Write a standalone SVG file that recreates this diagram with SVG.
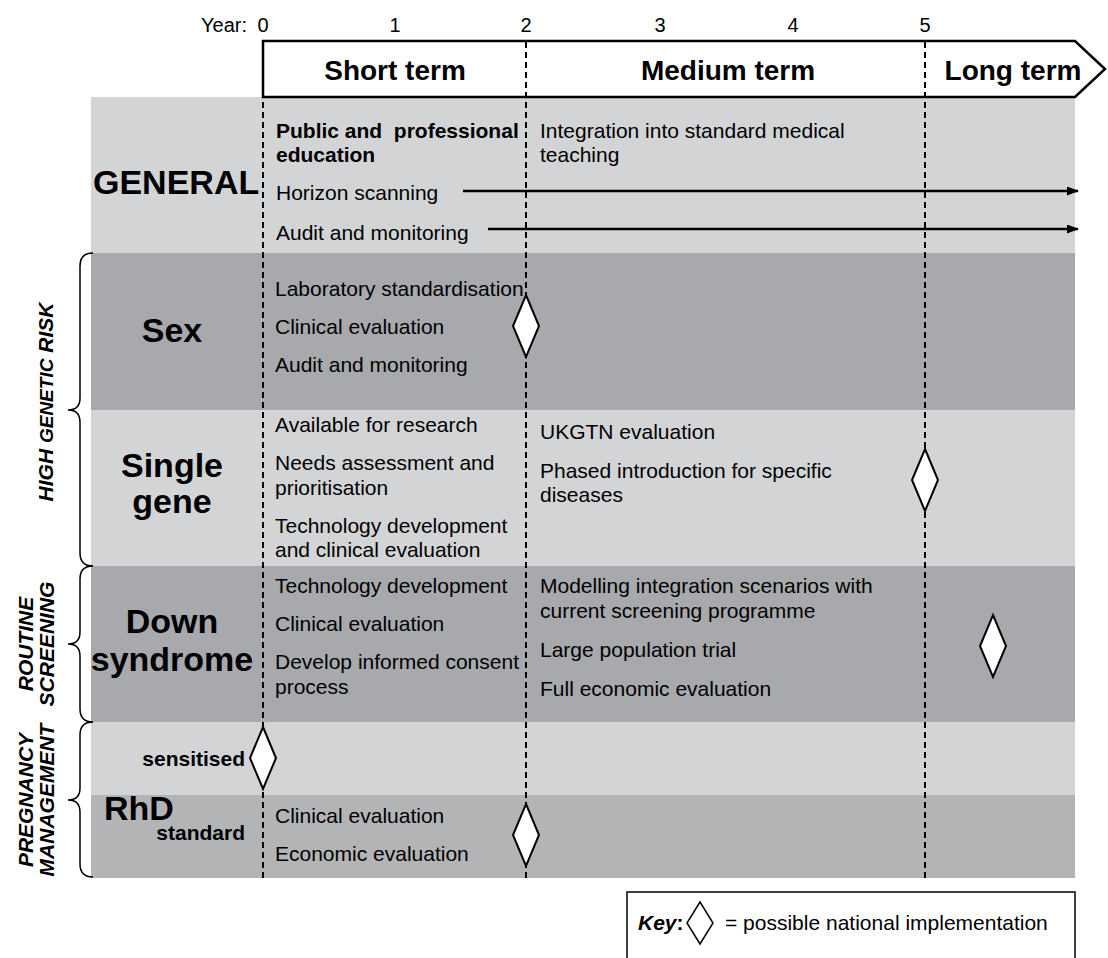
<svg xmlns="http://www.w3.org/2000/svg" width="1108" height="958" viewBox="0 0 1108 958">
<defs>
<style>
.t{font-family:"Liberation Sans",Arial,sans-serif;font-size:21px;fill:#000;white-space:pre}
.b{font-weight:bold}
.lbl{font-family:"Liberation Sans",Arial,sans-serif;font-weight:bold;font-size:34px;fill:#000}
.hd{font-family:"Liberation Sans",Arial,sans-serif;font-weight:bold;font-size:28px;fill:#000;text-anchor:middle}
.yr{font-family:"Liberation Sans",Arial,sans-serif;font-size:20px;fill:#000}
.grp{font-family:"Liberation Sans",Arial,sans-serif;font-weight:bold;font-style:italic;font-size:21px;fill:#000;text-anchor:middle}
.light{fill:#d3d4d6}
.dark{fill:#a7a9ac}
.mid{fill:#b3b4b6}
.dash{stroke:#000;stroke-width:2;stroke-dasharray:6,4;fill:none}
.dia{fill:#fff;stroke:#000;stroke-width:2}
.brace{fill:none;stroke:#000;stroke-width:1.5}
.arr{stroke:#000;stroke-width:2.5;fill:none}
</style>
<marker id="ah" markerWidth="12" markerHeight="9" refX="11" refY="4.5" orient="auto" markerUnits="userSpaceOnUse">
<path d="M0,0 L12,4.5 L0,9 Z" fill="#000"/>
</marker>
<polygon id="d" points="0,-31 13,0 0,31 -13,0"/>
</defs>

<g id="bands">
<rect class="light" x="91" y="97" width="984" height="156"/>
<rect class="dark" x="91" y="253" width="984" height="157"/>
<rect class="light" x="91" y="410" width="984" height="156"/>
<rect class="dark" x="91" y="566" width="984" height="156"/>
<rect class="light" x="91" y="722" width="984" height="73"/>
<rect class="mid" x="91" y="795" width="984" height="83"/>
</g>

<g id="timeline">
<text class="yr" x="247" y="32" text-anchor="end">Year:</text>
<text class="yr" x="263" y="32" text-anchor="middle">0</text>
<text class="yr" x="395" y="32" text-anchor="middle">1</text>
<text class="yr" x="526" y="32" text-anchor="middle">2</text>
<text class="yr" x="660" y="32" text-anchor="middle">3</text>
<text class="yr" x="793" y="32" text-anchor="middle">4</text>
<text class="yr" x="925" y="32" text-anchor="middle">5</text>
<polygon points="263,41 1075,41 1105,69 1075,97 263,97" fill="#fff" stroke="#000" stroke-width="2.5"/>
<text class="hd" x="395" y="80">Short term</text>
<text class="hd" x="728" y="80" font-size="27.5">Medium term</text>
<text class="hd" x="1013" y="80" font-size="30">Long term</text>
</g>

<g id="connectors">
<line class="dash" x1="263" y1="42" x2="263" y2="880"/>
<line class="dash" x1="526" y1="42" x2="526" y2="880"/>
<line class="dash" x1="925" y1="42" x2="925" y2="878"/>
<line class="arr" x1="463" y1="191" x2="1078" y2="191" marker-end="url(#ah)"/>
<line class="arr" x1="488" y1="229" x2="1078" y2="229" marker-end="url(#ah)"/>
</g>

<g id="general">
<text class="lbl" x="93" y="194" font-size="33.5">GENERAL</text>
<text class="t b" x="276" y="138">Public and  professional</text>
<text class="t b" x="276" y="162">education</text>
<text class="t" x="276" y="200">Horizon scanning</text>
<text class="t" x="276" y="240">Audit and monitoring</text>
<text class="t" x="540" y="138">Integration into standard medical</text>
<text class="t" x="540" y="162">teaching</text>
</g>

<g id="sex">
<text class="lbl" x="172" y="342" text-anchor="middle">Sex</text>
<text class="t" x="275" y="296">Laboratory standardisation</text>
<text class="t" x="275" y="334">Clinical evaluation</text>
<text class="t" x="275" y="372">Audit and monitoring</text>
<use href="#d" class="dia" x="526" y="326"/>
</g>

<g id="single-gene">
<text class="lbl" x="172" y="477" text-anchor="middle">Single</text>
<text class="lbl" x="172" y="513" text-anchor="middle">gene</text>
<text class="t" x="275" y="432">Available for research</text>
<text class="t" x="275" y="470">Needs assessment and</text>
<text class="t" x="275" y="495">prioritisation</text>
<text class="t" x="275" y="533">Technology development</text>
<text class="t" x="275" y="557">and clinical evaluation</text>
<text class="t" x="540" y="439">UKGTN evaluation</text>
<text class="t" x="540" y="478">Phased introduction for specific</text>
<text class="t" x="540" y="502">diseases</text>
<use href="#d" class="dia" x="925" y="480"/>
</g>

<g id="down-syndrome">
<text class="lbl" x="172" y="633" text-anchor="middle">Down</text>
<text class="lbl" x="172" y="671" text-anchor="middle">syndrome</text>
<text class="t" x="275" y="593">Technology development</text>
<text class="t" x="275" y="631">Clinical evaluation</text>
<text class="t" x="275" y="669">Develop informed consent</text>
<text class="t" x="275" y="694">process</text>
<text class="t" x="540" y="593">Modelling integration scenarios with</text>
<text class="t" x="540" y="618">current screening programme</text>
<text class="t" x="540" y="657">Large population trial</text>
<text class="t" x="540" y="696">Full economic evaluation</text>
<use href="#d" class="dia" x="993" y="646"/>
</g>

<g id="rhd">
<text class="lbl" x="104" y="820">RhD</text>
<text class="t b" x="245" y="766" text-anchor="end" font-size="20">sensitised</text>
<text class="t b" x="245" y="840" text-anchor="end" font-size="20">standard</text>
<text class="t" x="275" y="823">Clinical evaluation</text>
<text class="t" x="275" y="861">Economic evaluation</text>
<use href="#d" class="dia" x="263" y="758"/>
<use href="#d" class="dia" x="526" y="835"/>
</g>

<g id="groups">
<path class="brace" d="M93,253 Q80,253 80,266 L80,398 Q80,410 68,410 Q80,410 80,422 L80,553 Q80,566 93,566"/>
<text class="grp" transform="translate(53,402) rotate(-90)" font-size="25">HIGH <tspan font-size="19">GENETIC</tspan> RISK</text>
<path class="brace" d="M93,566 Q80,566 80,579 L80,632 Q80,644 68,644 Q80,644 80,656 L80,709 Q80,722 93,722"/>
<text class="grp" transform="translate(33,644) rotate(-90)">ROUTINE</text>
<text class="grp" transform="translate(54,644) rotate(-90)">SCREENING</text>
<path class="brace" d="M93,722 Q80,722 80,735 L80,788 Q80,800 68,800 Q80,800 80,812 L80,864 Q80,877 93,877"/>
<text class="grp" transform="translate(33,800) rotate(-90)">PREGNANCY</text>
<text class="grp" transform="translate(54,800) rotate(-90)">MANAGEMENT</text>
</g>

<g id="key">
<rect x="627" y="892" width="448" height="70" fill="#fff" stroke="#000" stroke-width="1.5"/>
<text class="t b" x="638" y="930"><tspan font-style="italic">Key</tspan>:</text>
<polygon points="700,902 713,923 700,944 687,923" fill="#fff" stroke="#000" stroke-width="1.5"/>
<text class="t" x="725" y="930">= possible national implementation</text>
</g>
</svg>
